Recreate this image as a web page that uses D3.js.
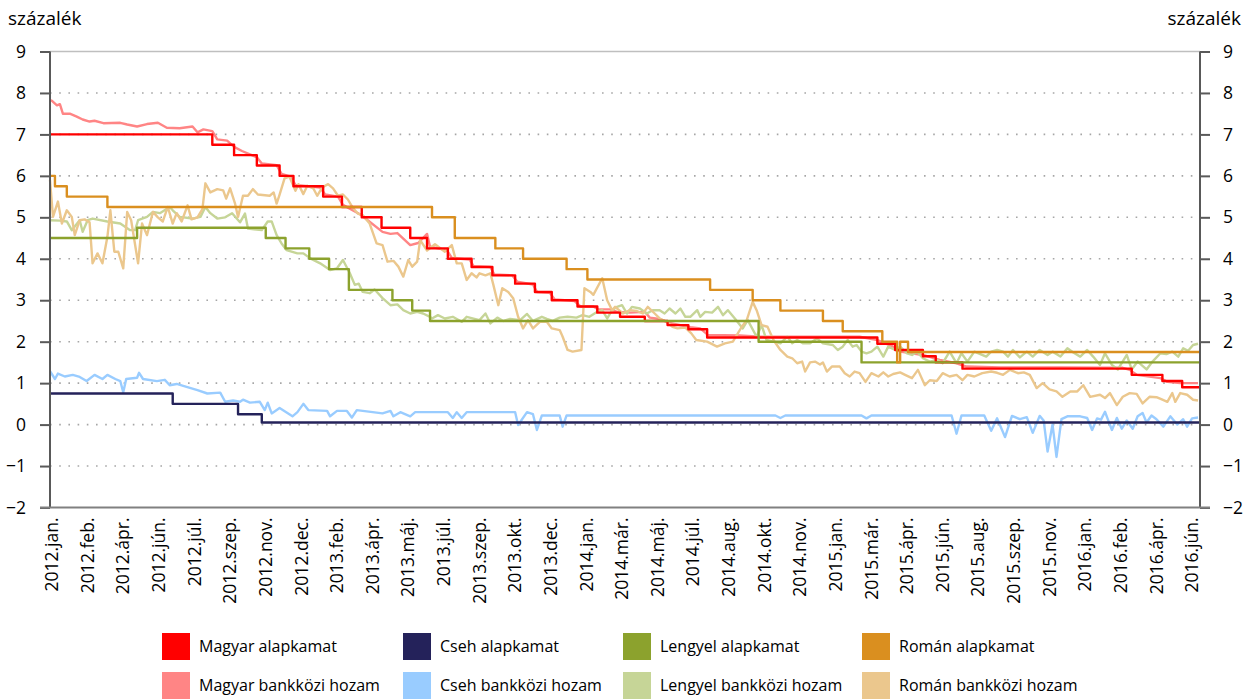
<!DOCTYPE html>
<html><head><meta charset="utf-8">
<script src="https://cdn.jsdelivr.net/npm/d3@7/dist/d3.min.js"></script>
<style>
body{margin:0;background:#fff}
text{font-family:"Open Sans",sans-serif;fill:#000}
</style>
</head><body>
<svg id="c" width="1250" height="700"></svg>
<script>
// x = trading-day index from 2012 Jan; a label every 36 trading days
const xLabels = ["2012.jan.","2012.feb.","2012.ápr.","2012.jún.","2012.júl.","2012.szep.","2012.nov.","2012.dec.","2013.feb.","2013.ápr.","2013.máj.","2013.júl.","2013.szep.","2013.okt.","2013.dec.","2014.jan.","2014.már.","2014.máj.","2014.júl.","2014.aug.","2014.okt.","2014.nov.","2015.jan.","2015.már.","2015.ápr.","2015.jún.","2015.aug.","2015.szep.","2015.nov.","2016.jan.","2016.feb.","2016.ápr.","2016.jún."];
const labelEvery = 36;
const dayCount = 1162;
const yTicks = [-2,-1,0,1,2,3,4,5,6,7,8,9];
const yUnit = "százalék";

// policy rates: [day, new value]
const magyarAlap = [[0,7.0],[164,6.75],[186,6.5],[209,6.25],[232,6.0],[246,5.75],[276,5.5],[295,5.25],[315,5.0],[335,4.75],[364,4.5],[381,4.25],[402,4.0],[426,3.8],[447,3.6],[470,3.4],[490,3.2],[507,3.0],[533,2.85],[553,2.7],[576,2.6],[601,2.5],[624,2.4],[645,2.3],[664,2.1],[836,1.95],[854,1.8],[882,1.65],[895,1.5],[922,1.35],[1093,1.2],[1124,1.05],[1144,0.9]];
const csehAlap = [[0,0.75],[124,0.5],[190,0.25],[214,0.05]];
const lengyelAlap = [[0,4.5],[88,4.75],[218,4.5],[238,4.25],[262,4.0],[282,3.75],[302,3.25],[346,3.0],[366,2.75],[384,2.5],[716,2.0],[820,1.5]];
const romanAlap = [[0,6.0],[5,5.75],[17,5.5],[58,5.25],[386,5.0],[409,4.5],[450,4.25],[478,4.0],[522,3.75],[543,3.5],[667,3.25],[710,3.0],[738,2.75],[781,2.5],[801,2.25],[841,2.0],[856,1.5],[859,2.0],[867,1.75]];

// interbank yields: [day, value]
const magyarBank = [[0,7.83],[2,7.81],[7,7.7],[10,7.73],[13,7.5],[20,7.5],[27,7.43],[33,7.36],[40,7.31],[45,7.33],[54,7.27],[71,7.28],[78,7.24],[88,7.19],[98,7.25],[109,7.28],[118,7.16],[131,7.15],[144,7.19],[149,7.05],[155,7.12],[164,7.08],[169,6.88],[179,6.85],[186,6.7],[194,6.6],[202,6.52],[209,6.45],[214,6.3],[229,6.26],[234,6.05],[243,5.98],[248,5.78],[261,5.75],[273,5.72],[278,5.55],[291,5.5],[296,5.3],[308,5.14],[315,5.05],[321,4.93],[336,4.65],[344,4.6],[351,4.62],[364,4.33],[372,4.38],[381,4.6],[384,4.29],[401,4.21],[406,4.02],[424,3.98],[428,3.82],[445,3.8],[449,3.62],[467,3.6],[472,3.45],[488,3.38],[492,3.2],[505,3.18],[510,3.02],[530,2.98],[536,2.85],[549,2.85],[554,2.78],[566,2.78],[573,2.72],[586,2.7],[601,2.72],[606,2.58],[616,2.55],[626,2.45],[647,2.35],[657,2.32],[665,2.16],[697,2.15],[717,2.12],[758,2.12],[818,2.12],[836,2.04],[852,1.88],[859,1.76],[882,1.68],[899,1.56],[916,1.48],[926,1.4],[960,1.38],[1021,1.38],[1061,1.37],[1084,1.37],[1091,1.32],[1098,1.2],[1122,1.12],[1129,1.03],[1142,1.0],[1160,1.0]];
const csehBank = [[0,1.29],[5,1.1],[8,1.23],[15,1.16],[23,1.2],[30,1.15],[37,1.05],[45,1.2],[53,1.1],[58,1.2],[66,1.1],[71,1.05],[74,0.78],[77,1.1],[88,1.13],[90,1.25],[94,1.1],[108,1.05],[116,1.08],[121,0.95],[128,0.98],[138,0.91],[149,0.83],[159,0.75],[172,0.77],[177,0.55],[185,0.58],[192,0.55],[195,0.6],[202,0.53],[212,0.55],[217,0.35],[220,0.53],[224,0.27],[232,0.4],[245,0.2],[250,0.3],[256,0.5],[261,0.35],[280,0.33],[283,0.2],[290,0.33],[300,0.33],[305,0.17],[310,0.35],[336,0.27],[344,0.33],[347,0.2],[354,0.3],[364,0.2],[369,0.3],[384,0.3],[402,0.3],[407,0.16],[411,0.3],[416,0.16],[421,0.3],[470,0.3],[473,-0.01],[482,0.3],[488,0.25],[492,-0.13],[497,0.22],[515,0.22],[518,-0.05],[522,0.22],[733,0.22],[738,0.16],[743,0.22],[820,0.22],[825,0.15],[830,0.22],[911,0.22],[916,-0.22],[921,0.22],[944,0.22],[951,-0.15],[957,0.15],[965,-0.3],[972,0.21],[980,0.13],[987,0.18],[993,-0.2],[1000,0.21],[1004,0.1],[1008,-0.65],[1013,0.0],[1017,-0.78],[1022,0.13],[1028,0.2],[1041,0.2],[1048,0.16],[1053,-0.13],[1058,0.15],[1062,0.12],[1066,0.31],[1069,0.12],[1073,-0.13],[1078,0.16],[1083,-0.1],[1088,0.1],[1094,-0.1],[1099,0.2],[1104,0.28],[1108,0.05],[1113,0.22],[1118,0.13],[1125,-0.05],[1132,0.2],[1139,0.0],[1145,0.13],[1149,-0.05],[1154,0.15],[1160,0.17]];
const lengyelBank = [[0,4.93],[10,4.92],[17,4.9],[22,4.69],[30,4.93],[33,4.65],[38,4.93],[43,4.97],[58,4.9],[71,4.85],[81,4.69],[86,4.69],[89,4.93],[98,5.01],[104,5.13],[111,5.1],[121,5.25],[124,5.17],[131,5.01],[144,4.97],[152,5.01],[157,5.25],[162,5.1],[169,4.97],[177,5.0],[184,5.1],[192,4.88],[197,5.09],[200,4.73],[214,4.69],[220,4.9],[224,4.9],[229,4.57],[234,4.37],[239,4.21],[250,4.13],[256,4.13],[263,4.01],[273,3.89],[283,3.73],[290,3.77],[296,3.97],[303,3.65],[308,3.37],[312,3.4],[316,3.2],[323,3.17],[328,3.26],[336,3.05],[344,2.88],[351,2.9],[357,2.76],[364,2.68],[371,2.72],[377,2.68],[384,2.6],[386,2.56],[392,2.64],[399,2.56],[407,2.6],[416,2.48],[421,2.6],[429,2.55],[434,2.52],[440,2.68],[445,2.44],[452,2.58],[458,2.5],[465,2.55],[475,2.52],[482,2.67],[488,2.5],[497,2.6],[502,2.55],[508,2.5],[515,2.58],[523,2.6],[532,2.58],[538,2.64],[545,2.6],[553,2.72],[558,2.76],[563,2.56],[568,2.76],[573,2.84],[578,2.88],[583,2.68],[588,2.84],[596,2.8],[603,2.68],[609,2.76],[616,2.76],[621,2.68],[626,2.8],[632,2.68],[637,2.8],[642,2.6],[647,2.6],[654,2.76],[657,2.6],[662,2.72],[669,2.7],[675,2.84],[680,2.64],[685,2.76],[692,2.56],[700,2.32],[705,2.52],[714,2.12],[719,2.4],[724,2.04],[731,2.0],[738,1.96],[745,2.12],[750,1.96],[755,2.04],[761,1.96],[768,1.96],[775,2.08],[781,1.96],[791,1.92],[796,1.8],[801,1.88],[806,2.04],[811,1.88],[815,1.92],[820,1.76],[825,1.72],[830,1.76],[836,1.88],[842,1.64],[847,1.88],[854,1.8],[859,1.88],[866,1.72],[871,1.68],[876,1.76],[882,1.6],[889,1.52],[896,1.56],[902,1.48],[909,1.76],[916,1.48],[921,1.72],[927,1.52],[934,1.76],[940,1.7],[946,1.64],[951,1.76],[957,1.8],[963,1.76],[968,1.64],[973,1.8],[980,1.62],[987,1.76],[993,1.64],[1000,1.8],[1008,1.68],[1013,1.76],[1021,1.64],[1028,1.84],[1034,1.74],[1041,1.64],[1048,1.8],[1054,1.64],[1061,1.44],[1066,1.72],[1073,1.44],[1079,1.33],[1088,1.68],[1093,1.33],[1099,1.52],[1108,1.33],[1114,1.52],[1122,1.72],[1128,1.7],[1134,1.76],[1140,1.64],[1145,1.84],[1150,1.78],[1155,1.92],[1160,1.95]];
const romanBank = [[0,5.9],[3,5.01],[8,5.38],[12,4.85],[17,5.17],[22,5.01],[25,4.57],[30,4.93],[35,4.95],[40,4.88],[43,3.89],[48,4.13],[53,3.89],[58,4.53],[61,5.17],[65,4.17],[69,4.17],[74,3.77],[78,5.13],[82,4.93],[89,3.89],[93,4.85],[98,4.57],[104,5.13],[109,5.0],[114,4.9],[119,5.25],[124,4.85],[128,5.1],[133,4.9],[139,5.29],[143,4.95],[149,5.0],[154,5.2],[157,5.82],[162,5.6],[169,5.68],[175,5.65],[178,5.45],[182,5.7],[187,5.33],[190,5.01],[195,5.52],[200,5.52],[205,5.68],[210,5.55],[222,5.52],[226,5.6],[229,5.33],[232,5.55],[237,5.94],[242,5.98],[248,5.64],[251,5.8],[256,5.56],[260,5.76],[266,5.7],[270,5.52],[275,5.72],[281,5.8],[286,5.7],[291,5.52],[296,5.55],[301,5.43],[306,5.23],[311,5.09],[316,5.05],[323,4.85],[330,4.37],[336,4.33],[341,3.93],[347,3.95],[352,3.81],[357,3.57],[362,3.97],[366,3.81],[371,3.93],[374,4.45],[381,4.2],[389,4.35],[399,4.17],[406,4.33],[411,3.89],[416,3.89],[421,3.49],[426,3.65],[431,3.55],[434,3.65],[440,3.6],[445,3.65],[448,3.37],[453,2.88],[457,3.29],[463,3.2],[468,3.05],[473,2.6],[478,2.32],[483,2.52],[488,2.32],[495,2.48],[502,2.48],[507,2.32],[515,2.28],[518,2.12],[523,1.8],[528,1.76],[537,1.8],[540,3.29],[546,3.2],[549,3.13],[558,3.53],[563,3.0],[568,2.76],[571,2.84],[579,2.68],[586,2.76],[593,2.74],[599,2.68],[604,2.84],[611,2.68],[616,2.56],[623,2.48],[629,2.36],[634,2.32],[642,2.34],[648,2.2],[653,2.04],[664,2.0],[674,1.88],[682,1.96],[690,2.0],[699,2.36],[704,2.52],[710,2.96],[714,2.76],[719,2.4],[725,2.36],[731,2.04],[738,1.8],[745,1.64],[750,1.6],[755,1.48],[760,1.52],[763,1.28],[768,1.5],[773,1.52],[778,1.45],[781,1.5],[785,1.28],[790,1.4],[798,1.4],[803,1.24],[808,1.16],[813,1.28],[818,1.24],[824,1.03],[830,1.24],[837,1.16],[842,1.26],[847,1.16],[852,1.22],[859,1.26],[864,1.2],[871,1.12],[877,1.32],[884,0.95],[889,1.07],[896,1.05],[902,1.24],[909,1.16],[916,1.2],[922,1.07],[927,1.2],[934,1.16],[942,1.24],[951,1.28],[957,1.25],[963,1.2],[970,1.32],[978,1.24],[984,1.26],[990,1.2],[997,0.88],[1003,1.0],[1010,0.85],[1017,0.8],[1023,0.67],[1031,0.8],[1038,0.8],[1044,0.95],[1051,0.67],[1061,0.72],[1066,0.64],[1071,0.76],[1078,0.47],[1084,0.67],[1091,0.76],[1098,0.74],[1104,0.51],[1111,0.67],[1118,0.66],[1124,0.6],[1129,0.55],[1134,0.76],[1137,0.55],[1142,0.76],[1149,0.72],[1155,0.6],[1160,0.58]];

const seriesNames = ["Magyar alapkamat","Cseh alapkamat","Lengyel alapkamat","Román alapkamat","Magyar bankközi hozam","Cseh bankközi hozam","Lengyel bankközi hozam","Román bankközi hozam"];
const seriesColors = ["#FF0000","#24225A","#8CA22D","#DA8F1F","#FF8585","#99CCFF","#C6D597","#EBC78D"];
const seriesData = [magyarAlap,csehAlap,lengyelAlap,romanAlap,magyarBank,csehBank,lengyelBank,romanBank];
const isStep = [true,true,true,true,false,false,false,false];

const svg = d3.select("#c");
const M = {left:50,right:1200,top:51.5,bottom:507.5};
const x = d3.scaleLinear().domain([0,dayCount]).range([M.left,M.right]);
const y = d3.scaleLinear().domain([-2,9]).range([M.bottom,M.top]);

// gridlines
svg.append("g").selectAll("line").data(yTicks.filter(v=>v>-2&&v<9)).join("line")
  .attr("x1",M.left).attr("x2",M.right).attr("y1",d=>y(d)).attr("y2",d=>y(d))
  .attr("stroke","#A6A6A6").attr("stroke-width",1.6).attr("stroke-dasharray","1.6,7.6");
svg.append("line").attr("x1",M.left).attr("x2",M.right).attr("y1",y(9)).attr("y2",y(9))
  .attr("stroke","#BFBFBF").attr("stroke-width",1.5);

// lines: interbank first, then policy rates
const order = [4,5,6,7,0,1,2,3];
const lineGen = d3.line().x(d=>x(d[0])).y(d=>y(d[1]));
order.forEach(i=>{
  let data = seriesData[i];
  let gen = lineGen;
  if(isStep[i]){
    data = data.concat([[dayCount, data[data.length-1][1]]]);
    gen = d3.line().x(d=>x(d[0])).y(d=>y(d[1])).curve(d3.curveStepAfter);
  }
  svg.append("path").attr("d",gen(data)).attr("fill","none")
    .attr("stroke",seriesColors[i]).attr("stroke-width",2.4).attr("stroke-linejoin","round");
});

// axes
const axisCol = "#595959";
const yl = d3.axisLeft(y).tickValues(yTicks).tickSize(10).tickPadding(14).tickFormat(d3.format("d"));
const gl = svg.append("g").attr("transform",`translate(${M.left},0)`).call(yl);
const yr = d3.axisRight(y).tickValues(yTicks).tickSize(10).tickPadding(13).tickFormat(d3.format("d"));
const gr = svg.append("g").attr("transform",`translate(${M.right},0)`).call(yr);
[gl,gr].forEach(g=>{
  g.select(".domain").remove();
  g.selectAll(".tick line").attr("stroke",axisCol).attr("stroke-width",2);
  g.selectAll(".tick text").attr("font-family","Open Sans").attr("font-size",17.5).attr("fill","#000");
});
svg.append("line").attr("x1",M.left).attr("x2",M.left).attr("y1",M.top).attr("y2",M.bottom).attr("stroke",axisCol).attr("stroke-width",2);
svg.append("line").attr("x1",M.right).attr("x2",M.right).attr("y1",M.top).attr("y2",M.bottom).attr("stroke",axisCol).attr("stroke-width",2);
svg.append("line").attr("x1",M.left-10).attr("x2",M.right+10).attr("y1",M.bottom).attr("y2",M.bottom).attr("stroke","#808080").attr("stroke-width",2.2);

// x labels
const xg = svg.append("g");
xg.selectAll("text").data(xLabels).join("text")
  .attr("transform",(d,i)=>`translate(${x(i*labelEvery)+2},${M.bottom+10}) rotate(-90)`)
  .attr("text-anchor","end").attr("dy","0.35em").attr("font-size",17.5).text(d=>d);

// unit labels
svg.append("text").attr("x",8).attr("y",25).attr("font-size",19).text(yUnit);
svg.append("text").attr("x",1241).attr("y",25).attr("text-anchor","end").attr("font-size",19).text(yUnit);

// legend
const legCols = 4;
const leg = svg.append("g");
seriesNames.forEach((n,i)=>{
  const col = i%legCols, row = Math.floor(i/legCols);
  const lx = [162,403,623,862][col], ly = 633 + row*39;
  leg.append("rect").attr("x",lx).attr("y",ly).attr("width",28).attr("height",27).attr("fill",seriesColors[i]);
  leg.append("text").attr("x",lx+37).attr("y",ly+19).attr("font-size",16).text(n);
});
</script>
</body></html>
